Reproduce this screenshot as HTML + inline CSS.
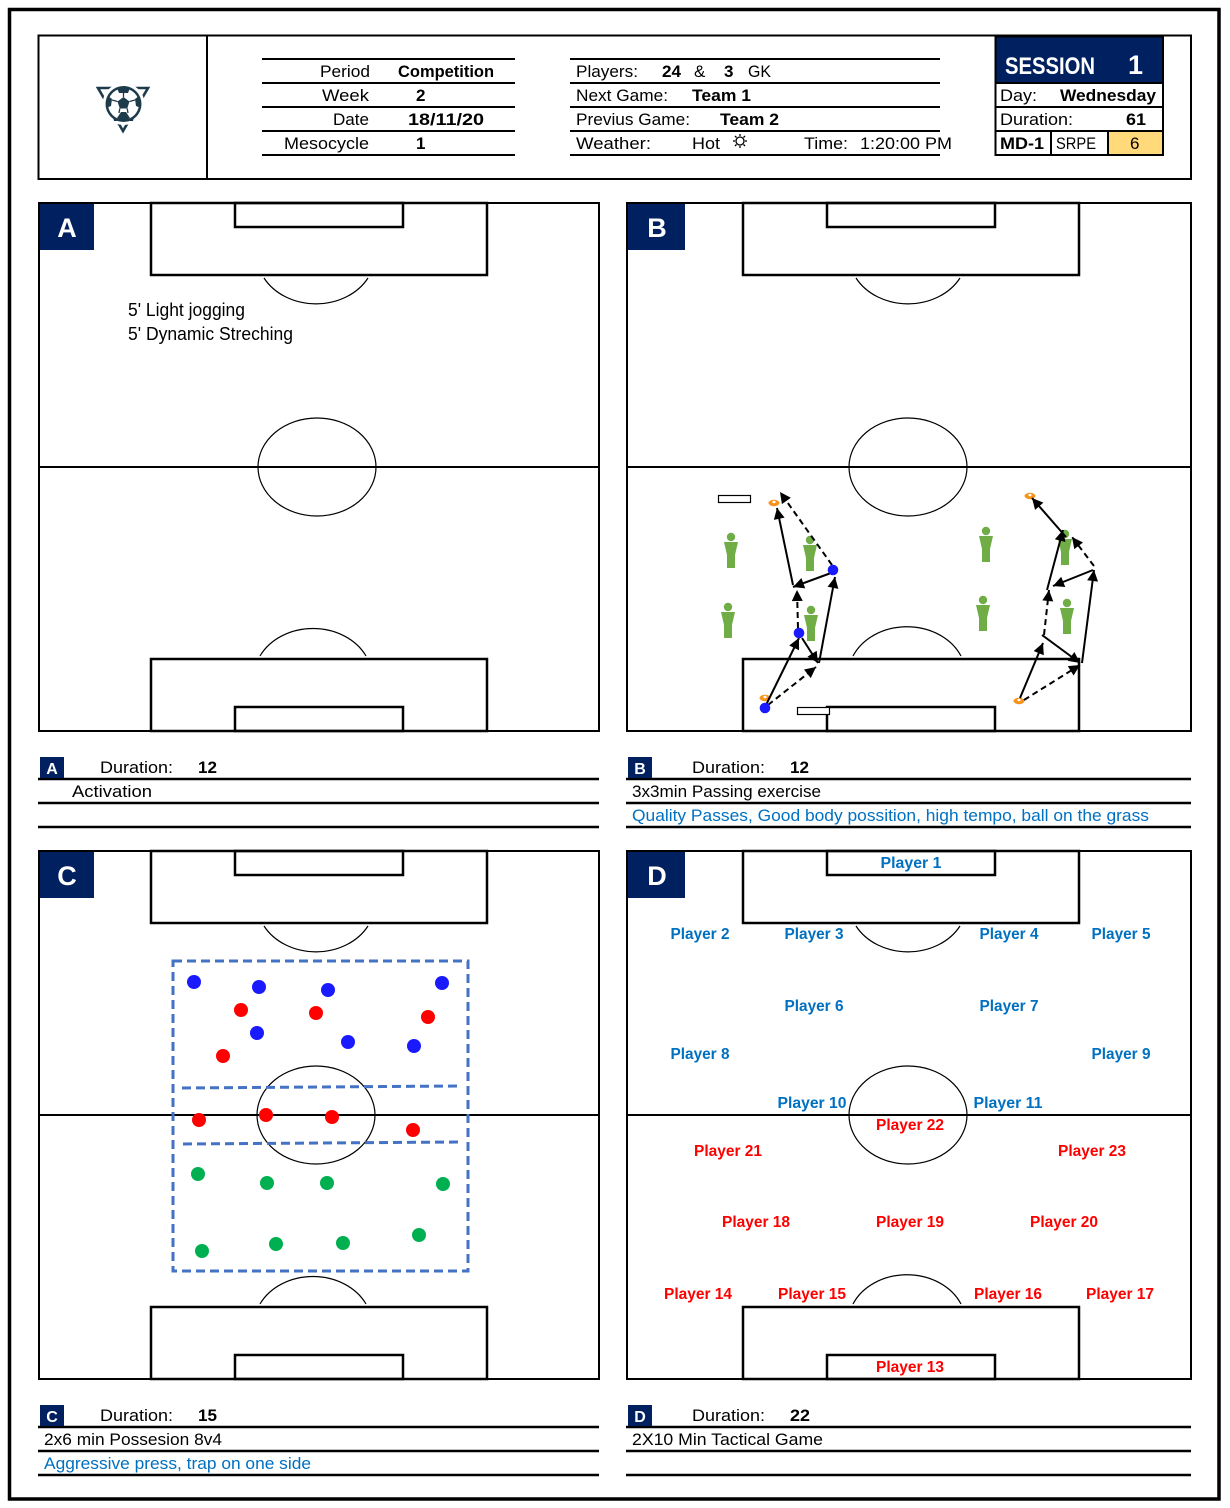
<!DOCTYPE html>
<html>
<head>
<meta charset="utf-8">
<style>
html,body{margin:0;padding:0;background:#fff;}
svg{display:block;}
text{font-family:"Liberation Sans",sans-serif;}
</style>
</head>
<body>
<svg width="1230" height="1508" viewBox="0 0 1230 1508" xmlns="http://www.w3.org/2000/svg">
<defs>
<marker id="ar" viewBox="0 0 10 10" refX="10" refY="5" markerWidth="13" markerHeight="11" markerUnits="userSpaceOnUse" orient="auto">
<path d="M0,0L10,5L0,10z" fill="#000"/>
</marker>
</defs>
<rect x="0" y="0" width="1230" height="1508" fill="#fff"/>
<!-- outer frame -->
<rect x="9.5" y="9.5" width="1209.5" height="1489.5" fill="none" stroke="#000" stroke-width="3.5"/>

<!-- header box -->
<rect x="38.5" y="35.5" width="1152.5" height="143.5" fill="none" stroke="#000" stroke-width="2"/>
<line x1="207" y1="35" x2="207" y2="179" stroke="#000" stroke-width="2"/>

<!-- logo -->
<g>
<polygon points="98,88 148,88 123,131" fill="none" stroke="#1e3b4c" stroke-width="2.6"/>
<circle cx="123.5" cy="104" r="21" fill="#fff"/>
<circle cx="123.5" cy="104" r="18" fill="#1e3b4c"/>
<circle cx="123.5" cy="104" r="15.5" fill="#fff"/>
<polygon points="123.5,97 129.5,101.5 127.2,108.5 119.8,108.5 117.5,101.5" fill="#1e3b4c"/>
<path d="M117,88 L130,88 L128,93 L119,93 Z" fill="#1e3b4c"/>
<path d="M139,96 L141,108 L136,106 L135,99 Z" fill="#1e3b4c"/>
<path d="M108,96 L106,108 L111,106 L112,99 Z" fill="#1e3b4c"/>
<path d="M113,117 L118,121 L114,121 Z" fill="#1e3b4c"/>
<path d="M134,117 L129,121 L133,121 Z" fill="#1e3b4c"/>
<path d="M117,118 L121,112 L126,112 L130,118 L123.5,121.5 Z" fill="#1e3b4c"/>
<g stroke="#1e3b4c" stroke-width="1.3">
<line x1="123.5" y1="97" x2="123.5" y2="92"/>
<line x1="129.5" y1="101.5" x2="135" y2="100"/>
<line x1="117.5" y1="101.5" x2="112" y2="100"/>
<line x1="127.2" y1="108.5" x2="128" y2="113"/>
<line x1="119.8" y1="108.5" x2="119" y2="113"/>
</g>
</g>

<!-- table 1 -->
<g stroke="#000" stroke-width="2">
<line x1="262" y1="59" x2="515" y2="59"/>
<line x1="262" y1="83" x2="515" y2="83"/>
<line x1="262" y1="107" x2="515" y2="107"/>
<line x1="262" y1="131" x2="515" y2="131"/>
<line x1="262" y1="155" x2="515" y2="155"/>
</g>
<g font-size="17" fill="#000">
<text x="320" y="77" textLength="50" lengthAdjust="spacingAndGlyphs">Period</text>
<text x="398" y="77" font-weight="bold" textLength="96" lengthAdjust="spacingAndGlyphs">Competition</text>
<text x="322" y="101" textLength="47" lengthAdjust="spacingAndGlyphs">Week</text>
<text x="416" y="101" font-weight="bold">2</text>
<text x="333" y="125" textLength="36" lengthAdjust="spacingAndGlyphs">Date</text>
<text x="408" y="125" font-weight="bold" textLength="76" lengthAdjust="spacingAndGlyphs">18/11/20</text>
<text x="284" y="149" textLength="85" lengthAdjust="spacingAndGlyphs">Mesocycle</text>
<text x="416" y="149" font-weight="bold">1</text>
</g>

<!-- table 2 -->
<g stroke="#000" stroke-width="2">
<line x1="570" y1="59" x2="940" y2="59"/>
<line x1="570" y1="83" x2="940" y2="83"/>
<line x1="570" y1="107" x2="940" y2="107"/>
<line x1="570" y1="131" x2="940" y2="131"/>
<line x1="570" y1="155" x2="940" y2="155"/>
</g>
<g font-size="17" fill="#000">
<text x="576" y="77" textLength="62" lengthAdjust="spacingAndGlyphs">Players:</text>
<text x="662" y="77" font-weight="bold" textLength="19" lengthAdjust="spacingAndGlyphs">24</text>
<text x="694" y="77">&amp;</text>
<text x="724" y="77" font-weight="bold">3</text>
<text x="748" y="77" textLength="23" lengthAdjust="spacingAndGlyphs">GK</text>
<text x="576" y="101" textLength="92" lengthAdjust="spacingAndGlyphs">Next Game:</text>
<text x="692" y="101" font-weight="bold" textLength="59" lengthAdjust="spacingAndGlyphs">Team 1</text>
<text x="576" y="125" textLength="114" lengthAdjust="spacingAndGlyphs">Previus Game:</text>
<text x="720" y="125" font-weight="bold" textLength="59" lengthAdjust="spacingAndGlyphs">Team 2</text>
<text x="576" y="149" textLength="75" lengthAdjust="spacingAndGlyphs">Weather:</text>
<text x="692" y="149" textLength="28" lengthAdjust="spacingAndGlyphs">Hot</text>
<text x="804" y="149" textLength="44" lengthAdjust="spacingAndGlyphs">Time:</text>
<text x="860" y="149" textLength="92" lengthAdjust="spacingAndGlyphs">1:20:00 PM</text>
</g>
<g stroke="#000" stroke-width="1.3" fill="none">
<circle cx="740" cy="141" r="4"/>
<line x1="740" y1="134" x2="740" y2="136"/>
<line x1="740" y1="146" x2="740" y2="148"/>
<line x1="733" y1="141" x2="735" y2="141"/>
<line x1="745" y1="141" x2="747" y2="141"/>
<line x1="735" y1="136" x2="736.5" y2="137.5"/>
<line x1="745" y1="136" x2="743.5" y2="137.5"/>
<line x1="735" y1="146" x2="736.5" y2="144.5"/>
<line x1="745" y1="146" x2="743.5" y2="144.5"/>
</g>

<!-- session box -->
<rect x="995" y="36" width="168" height="47" fill="#002060"/>
<rect x="1108" y="131" width="54" height="23" fill="#FFD97A"/>
<rect x="995.5" y="36.5" width="167.5" height="118.5" fill="none" stroke="#000" stroke-width="2"/>
<g stroke="#000" stroke-width="2">
<line x1="995" y1="83" x2="1163" y2="83"/>
<line x1="995" y1="107" x2="1163" y2="107"/>
<line x1="995" y1="131" x2="1163" y2="131"/>
<line x1="1051" y1="131" x2="1051" y2="155"/>
<line x1="1108" y1="131" x2="1108" y2="155"/>
</g>
<text x="1005" y="74" font-size="24" font-weight="bold" fill="#fff" textLength="90" lengthAdjust="spacingAndGlyphs">SESSION</text>
<text x="1128" y="74" font-size="27" font-weight="bold" fill="#fff">1</text>
<g font-size="17" fill="#000">
<text x="1000" y="101" textLength="37" lengthAdjust="spacingAndGlyphs">Day:</text>
<text x="1060" y="101" font-weight="bold" textLength="96" lengthAdjust="spacingAndGlyphs">Wednesday</text>
<text x="1000" y="125" textLength="73" lengthAdjust="spacingAndGlyphs">Duration:</text>
<text x="1126" y="125" font-weight="bold" textLength="20" lengthAdjust="spacingAndGlyphs">61</text>
<text x="1000" y="149" font-weight="bold" textLength="44" lengthAdjust="spacingAndGlyphs">MD-1</text>
<text x="1056" y="149" textLength="40" lengthAdjust="spacingAndGlyphs">SRPE</text>
<text x="1130" y="149">6</text>
</g>

<!-- ============ FIELD A ============ -->
<g fill="none" stroke="#000">
<rect x="39" y="203" width="560" height="528" stroke-width="2"/>
<line x1="38" y1="467" x2="599" y2="467" stroke-width="2"/>
<ellipse cx="317" cy="467" rx="59" ry="49" stroke-width="1.2"/>
<rect x="151" y="203" width="336" height="72" stroke-width="2.5"/>
<rect x="235" y="203" width="168" height="24" stroke-width="2.5"/>
<path d="M264,278 A59,49 0 0 0 368,278" stroke-width="1.2"/>
<rect x="151" y="659" width="336" height="72" stroke-width="2.5"/>
<rect x="235" y="707" width="168" height="24" stroke-width="2.5"/>
<path d="M260,656 A59,49 0 0 1 366,656" stroke-width="1.2"/>
</g>
<rect x="40" y="204" width="54" height="46" fill="#002060"/>
<text x="67" y="237" font-size="27" font-weight="bold" fill="#fff" text-anchor="middle">A</text>
<text x="128" y="316" font-size="18" textLength="117" lengthAdjust="spacingAndGlyphs">5' Light jogging</text>
<text x="128" y="340" font-size="18" textLength="165" lengthAdjust="spacingAndGlyphs">5' Dynamic Streching</text>

<!-- ============ FIELD B ============ -->
<g fill="none" stroke="#000">
<rect x="627" y="203" width="564" height="528" stroke-width="2"/>
<line x1="626" y1="467" x2="1191" y2="467" stroke-width="2"/>
<ellipse cx="908" cy="467" rx="59" ry="49" stroke-width="1.2"/>
<rect x="743" y="203" width="336" height="72" stroke-width="2.5"/>
<rect x="827" y="203" width="168" height="24" stroke-width="2.5"/>
<path d="M856,278 A59,49 0 0 0 960,278" stroke-width="1.2"/>
<rect x="743" y="659" width="336" height="72" stroke-width="2.5"/>
<rect x="827" y="707" width="168" height="24" stroke-width="2.5"/>
<path d="M853,656 A59,49 0 0 1 961,656" stroke-width="1.2"/>
</g>
<rect x="628" y="204" width="57" height="46" fill="#002060"/>
<text x="657" y="237" font-size="27" font-weight="bold" fill="#fff" text-anchor="middle">B</text>

<!-- small rects -->
<rect x="718.5" y="495.5" width="32" height="7" fill="#fff" stroke="#000" stroke-width="1.2"/>
<rect x="797.5" y="707.5" width="32" height="7" fill="#fff" stroke="#000" stroke-width="1.2"/>

<!-- green figures -->
<g fill="#70AD47">
<g transform="translate(731,537)"><circle cx="0" cy="0" r="4.2"/><path d="M-7,5 L7,5 L4,18 L4,31 L-4,31 L-4,18 Z"/></g>
<g transform="translate(810,540)"><circle cx="0" cy="0" r="4.2"/><path d="M-7,5 L7,5 L4,18 L4,31 L-4,31 L-4,18 Z"/></g>
<g transform="translate(728,607)"><circle cx="0" cy="0" r="4.2"/><path d="M-7,5 L7,5 L4,18 L4,31 L-4,31 L-4,18 Z"/></g>
<g transform="translate(811,610)"><circle cx="0" cy="0" r="4.2"/><path d="M-7,5 L7,5 L4,18 L4,31 L-4,31 L-4,18 Z"/></g>
<g transform="translate(986,531)"><circle cx="0" cy="0" r="4.2"/><path d="M-7,5 L7,5 L4,18 L4,31 L-4,31 L-4,18 Z"/></g>
<g transform="translate(1065,534)"><circle cx="0" cy="0" r="4.2"/><path d="M-7,5 L7,5 L4,18 L4,31 L-4,31 L-4,18 Z"/></g>
<g transform="translate(983,600)"><circle cx="0" cy="0" r="4.2"/><path d="M-7,5 L7,5 L4,18 L4,31 L-4,31 L-4,18 Z"/></g>
<g transform="translate(1067,603)"><circle cx="0" cy="0" r="4.2"/><path d="M-7,5 L7,5 L4,18 L4,31 L-4,31 L-4,18 Z"/></g>
</g>

<!-- cones -->
<g fill="#F7941D">
<ellipse cx="774" cy="503" rx="5.5" ry="3.2"/>
<ellipse cx="765" cy="698" rx="5.5" ry="3.2"/>
<ellipse cx="1030" cy="496" rx="5.5" ry="3.2"/>
<ellipse cx="1019" cy="701" rx="5.5" ry="3.2"/>
</g>
<g fill="#fff">
<ellipse cx="774" cy="502" rx="1.6" ry="1.2"/>
<ellipse cx="765" cy="697" rx="1.6" ry="1.2"/>
<ellipse cx="1030" cy="495" rx="1.6" ry="1.2"/>
<ellipse cx="1019" cy="700" rx="1.6" ry="1.2"/>
</g>

<!-- arrows left group -->
<g stroke="#000" stroke-width="2" fill="none" marker-end="url(#ar)">
<line x1="766" y1="705" x2="799" y2="638"/>
<line x1="768" y1="705" x2="816" y2="667" stroke-dasharray="6 4"/>
<line x1="802" y1="638" x2="818" y2="663"/>
<line x1="819" y1="663" x2="835" y2="577"/>
<line x1="831" y1="573" x2="793" y2="587"/>
<line x1="798" y1="628" x2="797" y2="590" stroke-dasharray="6 4"/>
<line x1="793" y1="585" x2="777" y2="508"/>
<line x1="832" y1="565" x2="780" y2="492" stroke-dasharray="6 4"/>
</g>
<!-- arrows right group -->
<g stroke="#000" stroke-width="2" fill="none" marker-end="url(#ar)">
<line x1="1020" y1="698" x2="1043" y2="643"/>
<line x1="1024" y1="700" x2="1080" y2="665" stroke-dasharray="6 4"/>
<line x1="1042" y1="635" x2="1080" y2="663"/>
<line x1="1082" y1="663" x2="1094" y2="570"/>
<line x1="1093" y1="570" x2="1053" y2="586"/>
<line x1="1044" y1="635" x2="1049" y2="590" stroke-dasharray="6 4"/>
<line x1="1047" y1="590" x2="1063" y2="530"/>
<line x1="1094" y1="566" x2="1072" y2="537" stroke-dasharray="6 4"/>
<line x1="1066" y1="537" x2="1032" y2="498"/>
</g>

<!-- blue dots B -->
<g fill="#1a1aff">
<circle cx="833" cy="570" r="5.3"/>
<circle cx="799" cy="633" r="5.3"/>
<circle cx="765" cy="708" r="5.3"/>
</g>

<!-- ============ FIELD C ============ -->
<g fill="none" stroke="#000">
<rect x="39" y="851" width="560" height="528" stroke-width="2"/>
<line x1="38" y1="1115" x2="599" y2="1115" stroke-width="2"/>
<ellipse cx="316" cy="1115" rx="59" ry="49" stroke-width="1.2"/>
<rect x="151" y="851" width="336" height="72" stroke-width="2.5"/>
<rect x="235" y="851" width="168" height="24" stroke-width="2.5"/>
<path d="M264,926 A59,49 0 0 0 368,926" stroke-width="1.2"/>
<rect x="151" y="1307" width="336" height="72" stroke-width="2.5"/>
<rect x="235" y="1355" width="168" height="24" stroke-width="2.5"/>
<path d="M260,1304 A59,49 0 0 1 366,1304" stroke-width="1.2"/>
</g>
<rect x="40" y="852" width="54" height="46" fill="#002060"/>
<text x="67" y="885" font-size="27" font-weight="bold" fill="#fff" text-anchor="middle">C</text>

<g fill="none" stroke="#4472C4" stroke-width="3" stroke-dasharray="9 5">
<rect x="173" y="961" width="295" height="310"/>
<line x1="182" y1="1088" x2="457" y2="1086"/>
<line x1="183" y1="1144" x2="459" y2="1142"/>
</g>
<g fill="#1a1aff">
<circle cx="194" cy="982" r="7"/>
<circle cx="259" cy="987" r="7"/>
<circle cx="328" cy="990" r="7"/>
<circle cx="442" cy="983" r="7"/>
<circle cx="257" cy="1033" r="7"/>
<circle cx="348" cy="1042" r="7"/>
<circle cx="414" cy="1046" r="7"/>
</g>
<g fill="#ff0000">
<circle cx="241" cy="1010" r="7"/>
<circle cx="316" cy="1013" r="7"/>
<circle cx="428" cy="1017" r="7"/>
<circle cx="223" cy="1056" r="7"/>
<circle cx="199" cy="1120" r="7"/>
<circle cx="266" cy="1115" r="7"/>
<circle cx="332" cy="1117" r="7"/>
<circle cx="413" cy="1130" r="7"/>
</g>
<g fill="#00B050">
<circle cx="198" cy="1174" r="7"/>
<circle cx="267" cy="1183" r="7"/>
<circle cx="327" cy="1183" r="7"/>
<circle cx="443" cy="1184" r="7"/>
<circle cx="202" cy="1251" r="7"/>
<circle cx="276" cy="1244" r="7"/>
<circle cx="343" cy="1243" r="7"/>
<circle cx="419" cy="1235" r="7"/>
</g>

<!-- ============ FIELD D ============ -->
<g fill="none" stroke="#000">
<rect x="627" y="851" width="564" height="528" stroke-width="2"/>
<line x1="626" y1="1115" x2="1191" y2="1115" stroke-width="2"/>
<ellipse cx="908" cy="1115" rx="59" ry="49" stroke-width="1.2"/>
<rect x="743" y="851" width="336" height="72" stroke-width="2.5"/>
<rect x="827" y="851" width="168" height="24" stroke-width="2.5"/>
<path d="M856,926 A59,49 0 0 0 960,926" stroke-width="1.2"/>
<rect x="743" y="1307" width="336" height="72" stroke-width="2.5"/>
<rect x="827" y="1355" width="168" height="24" stroke-width="2.5"/>
<path d="M853,1304 A59,49 0 0 1 961,1304" stroke-width="1.2"/>
</g>
<rect x="628" y="852" width="57" height="46" fill="#002060"/>
<text x="657" y="885" font-size="27" font-weight="bold" fill="#fff" text-anchor="middle">D</text>

<g font-size="16" font-weight="bold" fill="#0070C0" text-anchor="middle">
<text x="911" y="868" textLength="61" lengthAdjust="spacingAndGlyphs">Player 1</text>
<text x="700" y="939" textLength="59" lengthAdjust="spacingAndGlyphs">Player 2</text>
<text x="814" y="939" textLength="59" lengthAdjust="spacingAndGlyphs">Player 3</text>
<text x="1009" y="939" textLength="59" lengthAdjust="spacingAndGlyphs">Player 4</text>
<text x="1121" y="939" textLength="59" lengthAdjust="spacingAndGlyphs">Player 5</text>
<text x="814" y="1011" textLength="59" lengthAdjust="spacingAndGlyphs">Player 6</text>
<text x="1009" y="1011" textLength="59" lengthAdjust="spacingAndGlyphs">Player 7</text>
<text x="700" y="1059" textLength="59" lengthAdjust="spacingAndGlyphs">Player 8</text>
<text x="1121" y="1059" textLength="59" lengthAdjust="spacingAndGlyphs">Player 9</text>
<text x="812" y="1108" textLength="69" lengthAdjust="spacingAndGlyphs">Player 10</text>
<text x="1008" y="1108" textLength="69" lengthAdjust="spacingAndGlyphs">Player 11</text>
</g>
<g font-size="16" font-weight="bold" fill="#ff0000" text-anchor="middle">
<text x="910" y="1130" textLength="68" lengthAdjust="spacingAndGlyphs">Player 22</text>
<text x="728" y="1156" textLength="68" lengthAdjust="spacingAndGlyphs">Player 21</text>
<text x="1092" y="1156" textLength="68" lengthAdjust="spacingAndGlyphs">Player 23</text>
<text x="756" y="1227" textLength="68" lengthAdjust="spacingAndGlyphs">Player 18</text>
<text x="910" y="1227" textLength="68" lengthAdjust="spacingAndGlyphs">Player 19</text>
<text x="1064" y="1227" textLength="68" lengthAdjust="spacingAndGlyphs">Player 20</text>
<text x="698" y="1299" textLength="68" lengthAdjust="spacingAndGlyphs">Player 14</text>
<text x="812" y="1299" textLength="68" lengthAdjust="spacingAndGlyphs">Player 15</text>
<text x="1008" y="1299" textLength="68" lengthAdjust="spacingAndGlyphs">Player 16</text>
<text x="1120" y="1299" textLength="68" lengthAdjust="spacingAndGlyphs">Player 17</text>
<text x="910" y="1372" textLength="68" lengthAdjust="spacingAndGlyphs">Player 13</text>
</g>

<!-- ============ CAPTIONS ============ -->
<g stroke="#000" stroke-width="2.5">
<line x1="38" y1="779" x2="599" y2="779"/>
<line x1="38" y1="803" x2="599" y2="803"/>
<line x1="38" y1="827" x2="599" y2="827"/>
<line x1="626" y1="779" x2="1191" y2="779"/>
<line x1="626" y1="803" x2="1191" y2="803"/>
<line x1="626" y1="827" x2="1191" y2="827"/>
<line x1="38" y1="1427" x2="599" y2="1427"/>
<line x1="38" y1="1451" x2="599" y2="1451"/>
<line x1="38" y1="1475" x2="599" y2="1475"/>
<line x1="626" y1="1427" x2="1191" y2="1427"/>
<line x1="626" y1="1451" x2="1191" y2="1451"/>
<line x1="626" y1="1475" x2="1191" y2="1475"/>
</g>
<g fill="#002060">
<rect x="40" y="757" width="24" height="21"/>
<rect x="628" y="757" width="24" height="21"/>
<rect x="40" y="1405" width="24" height="21"/>
<rect x="628" y="1405" width="24" height="21"/>
</g>
<g font-size="16" font-weight="bold" fill="#fff" text-anchor="middle">
<text x="52" y="774">A</text>
<text x="640" y="774">B</text>
<text x="52" y="1422">C</text>
<text x="640" y="1422">D</text>
</g>
<g font-size="17" fill="#000">
<text x="100" y="773" textLength="73" lengthAdjust="spacingAndGlyphs">Duration:</text>
<text x="198" y="773" font-weight="bold" textLength="19" lengthAdjust="spacingAndGlyphs">12</text>
<text x="72" y="797" textLength="80" lengthAdjust="spacingAndGlyphs">Activation</text>
<text x="692" y="773" textLength="73" lengthAdjust="spacingAndGlyphs">Duration:</text>
<text x="790" y="773" font-weight="bold" textLength="19" lengthAdjust="spacingAndGlyphs">12</text>
<text x="632" y="797" textLength="189" lengthAdjust="spacingAndGlyphs">3x3min Passing exercise</text>
<text x="632" y="821" fill="#0070C0" textLength="517" lengthAdjust="spacingAndGlyphs">Quality Passes, Good body possition, high tempo, ball on the grass</text>
<text x="100" y="1421" textLength="73" lengthAdjust="spacingAndGlyphs">Duration:</text>
<text x="198" y="1421" font-weight="bold" textLength="19" lengthAdjust="spacingAndGlyphs">15</text>
<text x="44" y="1445" textLength="178" lengthAdjust="spacingAndGlyphs">2x6 min Possesion 8v4</text>
<text x="44" y="1469" fill="#0070C0" textLength="267" lengthAdjust="spacingAndGlyphs">Aggressive press, trap on one side</text>
<text x="692" y="1421" textLength="73" lengthAdjust="spacingAndGlyphs">Duration:</text>
<text x="790" y="1421" font-weight="bold" textLength="20" lengthAdjust="spacingAndGlyphs">22</text>
<text x="632" y="1445" textLength="191" lengthAdjust="spacingAndGlyphs">2X10 Min Tactical Game</text>
</g>
</svg>
</body>
</html>
